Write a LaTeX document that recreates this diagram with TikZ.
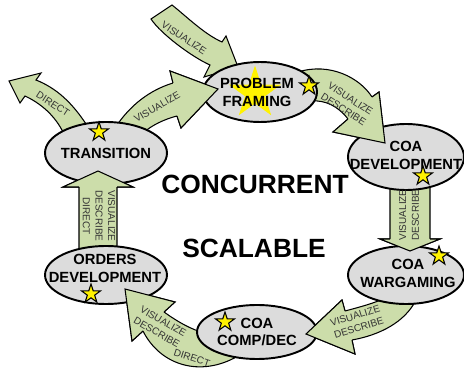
\documentclass[tikz,border=0pt]{standalone}
\usepackage{fontspec}
\setmainfont{Liberation Sans}
\usetikzlibrary{shapes.geometric}

\definecolor{sage}{RGB}{204,221,170}
\definecolor{phasegray}{RGB}{220,220,220}

\begin{document}
\begin{tikzpicture}[
        x=0.02cm, y=-0.02cm,
        phase/.style={ellipse, draw, line width=1.1pt, fill=phasegray, inner sep=0pt},
        phase_label/.style={font=\fontsize{8.4}{10.2}\selectfont\bfseries, align=center},
        big_word/.style={font=\fontsize{15}{18}\selectfont\bfseries},
        flow/.style={draw=black, line width=0.6pt, fill=sage},
        flow_label/.style={font=\fontsize{5.7}{7.2}\selectfont, align=center, text=black!80, inner sep=0pt},
        star_mark/.style={star, star points=5, star point ratio=2.62, draw, line width=0.6pt, fill=yellow, inner sep=0pt, minimum size=0.4cm}
    ]
    \useasboundingbox (0,0) rectangle (464,368);

    % --- Head points of the loop arrows ---
    \coordinate (h3u) at (173,83);  \coordinate (h3p) at (170,71);  \coordinate (h3t) at (218,89);
    \coordinate (h3q) at (181,128); \coordinate (h3l) at (177,116);
    \coordinate (h4u) at (372,97);  \coordinate (h4p) at (379,92);  \coordinate (h4t) at (385,143);
    \coordinate (h4q) at (333,132); \coordinate (h4l) at (348,119);
    \coordinate (h5u) at (430,239); \coordinate (h5p) at (440,239); \coordinate (h5t) at (410,251);
    \coordinate (h5q) at (380,239); \coordinate (h5l) at (390,239);
    \coordinate (h6u) at (345,311); \coordinate (h6p) at (342,300); \coordinate (h6t) at (306,334);
    \coordinate (h6q) at (355,354); \coordinate (h6l) at (352,340);
    \coordinate (h7u) at (164,312); \coordinate (h7p) at (175,302); \coordinate (h7t) at (125,289);
    \coordinate (h7q) at (132,341); \coordinate (h7l) at (143,331);
    \coordinate (h8u) at (79,187);  \coordinate (h8p) at (63,187);  \coordinate (h8t) at (98,171);
    \coordinate (h8q) at (133,187); \coordinate (h8l) at (117,187);

    % --- Arrows (tails go under the ellipses) ---
    \draw[flow] (151,19) -- (172,5) .. controls (186,16) and (204,34) .. (222,42) -- (226,36) -- (238,67)
        -- (204,77) -- (210,65) .. controls (192,57) and (161,34) .. (151,19) -- cycle;
    \draw[flow] (88,127) .. controls (72,102) and (56,88) .. (36,80) -- (41,73) -- (9,81) -- (20,103)
        -- (25,96) .. controls (40,103) and (55,115) .. (64,134) -- cycle;
    \draw[flow] (115,128) .. controls (130,105) and (150,90) .. (h3u) -- (h3p) -- (h3t) -- (h3q)
        -- (h3l) .. controls (165,119) and (152,125) .. (143,133) -- cycle;
    \draw[flow] (298,72) .. controls (330,62) and (360,78) .. (h4u) -- (h4p) -- (h4t) -- (h4q)
        -- (h4l) .. controls (338,106) and (325,100) .. (312,101) -- cycle;
    \draw[flow] (430,180) -- (h5u) -- (h5p) -- (h5t) -- (h5q) -- (h5l) -- (390,180) -- cycle;
    \draw[flow] (385,298) .. controls (375,303) and (360,307) .. (h6u) -- (h6p) -- (h6t) -- (h6q)
        -- (h6l) .. controls (380,335) and (405,322) .. (416,300) -- cycle;
    \draw[flow] (205,333) .. controls (192,330) and (178,322) .. (h7u) -- (h7p) -- (h7t) -- (h7q)
        -- (h7l) .. controls (160,365) and (200,378) .. (238,356) -- cycle;
    \draw[flow] (79,252) -- (h8u) -- (h8p) -- (h8t) -- (h8q) -- (h8l) -- (117,252) -- cycle;

    % --- Phases ---
    \node[phase, minimum width=2.28cm, minimum height=1.2cm] (pf) at (260,92) {};
    \node[phase, minimum width=2.32cm, minimum height=1.32cm] (dev) at (406,157) {};
    \node[phase, minimum width=2.32cm, minimum height=1.16cm] (war) at (406,275) {};
    \node[phase, minimum width=2.4cm, minimum height=1.08cm] (comp) at (257,332) {};
    \node[phase, minimum width=2.44cm, minimum height=1.16cm] (ord) at (106,275) {};
    \node[phase, minimum width=2.44cm, minimum height=1.24cm] (trans) at (106,153) {};

    \node[star, star points=5, star point ratio=2.62, fill=yellow, inner sep=0pt, minimum size=1.1cm] (bigstar) at (255,93) {};

    % heads lie on top of the next phase
    \foreach \n in {3,...,8} {
        \fill[sage] (h\n u) -- (h\n p) -- (h\n t) -- (h\n q) -- (h\n l) -- cycle;
        \draw[line width=0.6pt] (h\n u) -- (h\n p) -- (h\n t) -- (h\n q) -- (h\n l);
    }

    % --- Texts ---
    \node[phase_label] (pf_text) at (257,92) {PROBLEM\\FRAMING};
    \node[phase_label] (dev_text) at (406,155) {COA\\DEVELOPMENT};
    \node[phase_label] (war_text) at (408,273) {COA\\WARGAMING};
    \node[phase_label] (comp_text) at (257,332) {COA\\COMP/DEC};
    \node[phase_label] (ord_text) at (105,268) {ORDERS\\DEVELOPMENT};
    \node[phase_label] (trans_text) at (106,153) {TRANSITION};

    \node[big_word] (concurrent) at (255,184) {CONCURRENT};
    \node[big_word] (scalable) at (254,248) {SCALABLE};

    \node[flow_label, rotate=-33] at (184,38) {VISUALIZE};
    \node[flow_label, rotate=-33] at (53,104) {DIRECT};
    \node[flow_label, rotate=30] at (157,107) {VISUALIZE};
    \node[flow_label, rotate=-33] at (347,104) {VISUALIZE\\DESCRIBE};
    \node[flow_label, rotate=90] at (409,215) {VISUALIZE\\DESCRIBE};
    \node[flow_label, rotate=17] at (357,322) {VISUALIZE\\DESCRIBE};
    \node[flow_label, rotate=-30] at (160,327) {VISUALIZE\\DESCRIBE};
    \node[flow_label, rotate=-18] at (192,358) {DIRECT};
    \node[flow_label, rotate=-90] at (99,216) {VISUALIZE\\DESCRIBE\\DIRECT};

    % --- Stars ---
    \node[star_mark] (s_pf) at (309,86) {};
    \node[star_mark] (s_trans) at (99,132) {};
    \node[star_mark] (s_dev) at (423,176) {};
    \node[star_mark] (s_war) at (439,256) {};
    \node[star_mark] (s_comp) at (225,322) {};
    \node[star_mark] (s_ord) at (91,294) {};

\end{tikzpicture}
\end{document}
